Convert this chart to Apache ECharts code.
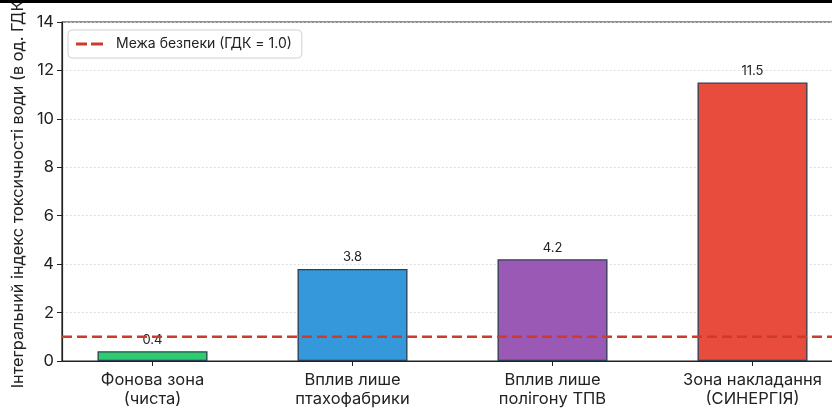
<!DOCTYPE html>
<html><head><meta charset="utf-8">
<script src="https://cdn.jsdelivr.net/npm/echarts@6/dist/echarts.min.js"></script>
<style>html,body{margin:0;padding:0;background:#fff}#c{width:832px;height:410px}</style>
</head><body><div id="c"></div>
<script>
const categories = ['Фонова зона\n(чиста)', 'Вплив лише\nптахофабрики', 'Вплив лише\nполігону ТПВ', 'Зона накладання\n(СИНЕРГІЯ)'];
const values = [0.4, 3.8, 4.2, 11.5];
const barColors = ['#2ecc71', '#3498db', '#9b59b6', '#e74c3c'];
const thresholdValue = 1.0;
const thresholdName = 'Межа безпеки (ГДК = 1.0)';
const yTitle = 'Інтегральний індекс токсичності води (в од. ГДК)';
const FONT = 'Inter, Roboto, sans-serif';

const chart = echarts.init(document.getElementById('c'), null, {renderer: 'canvas'});
const xmin = -0.4525, xmax = 3.4525;
chart.setOption({
  animation: false,
  textStyle: {fontFamily: FONT},
  grid: {left: 62, width: 781, top: 22, height: 339, outerBoundsMode: 'none', containLabel: false, show: true, borderColor: '#222', borderWidth: 1.2, backgroundColor: 'transparent'},
  graphic: [{type: 'rect', shape: {x: 0, y: 0, width: 832, height: 3}, style: {fill: '#000'}, z: 100}],
  legend: {
    left: 68, top: 30, padding: [7, 10, 7, 8], itemGap: 10, itemWidth: 27, itemHeight: 3,
    backgroundColor: '#fff', borderColor: '#d0d0d0', borderWidth: 1, borderRadius: 4,
    textStyle: {fontSize: 14, color: '#222', fontFamily: FONT, padding: [0, 0, 0, 8]},
    data: [{name: thresholdName, icon: 'path://M0,0h11v3h-11zM15,0h12v3h-12z', itemStyle: {color: '#cc3b2c'}}]
  },
  xAxis: {
    type: 'value', min: xmin, max: xmax,
    axisLine: {show: true, onZero: false, lineStyle: {color: '#222', width: 1.2}},
    axisTick: {show: true, customValues: [0, 1, 2, 3], length: 5, lineStyle: {color: '#222'}},
    axisLabel: {customValues: [0, 1, 2, 3], formatter: v => categories[Math.round(v)], fontSize: 16.5, color: '#222', lineHeight: 19, margin: 10, fontFamily: FONT},
    splitLine: {show: false}
  },
  yAxis: {
    type: 'value', min: 0, max: 14, interval: 2,
    name: yTitle, nameLocation: 'middle', nameGap: 34, nameRotate: 90,
    nameTextStyle: {fontSize: 16.3, color: '#222', fontFamily: FONT},
    axisLine: {show: true, onZero: false, lineStyle: {color: '#222', width: 1.2}},
    axisTick: {show: true, length: 5, lineStyle: {color: '#222'}},
    axisLabel: {fontSize: 16.5, color: '#222', margin: 8, fontFamily: FONT},
    splitLine: {show: true, lineStyle: {color: '#d6d6d6', type: [1.5, 2.5], width: 1}}
  },
  series: [
    {
      type: 'bar', barWidth: 110,
      data: values.map((v, i) => ({value: [i, v], itemStyle: {color: barColors[i], borderColor: '#2c3e50', borderWidth: 1.3}})),
      label: {show: true, position: 'top', distance: 5, fontSize: 13, color: '#222', fontFamily: FONT, formatter: p => p.value[1].toFixed(1)},
      z: 2
    },
    {
      name: thresholdName, type: 'line', symbol: 'none', z: 5,
      data: [[xmin, thresholdValue], [xmax, thresholdValue]],
      lineStyle: {color: '#cc3b2c', width: 2.5, type: [10, 5]},
      itemStyle: {color: '#cc3b2c'}
    }
  ]
});
</script></body></html>
